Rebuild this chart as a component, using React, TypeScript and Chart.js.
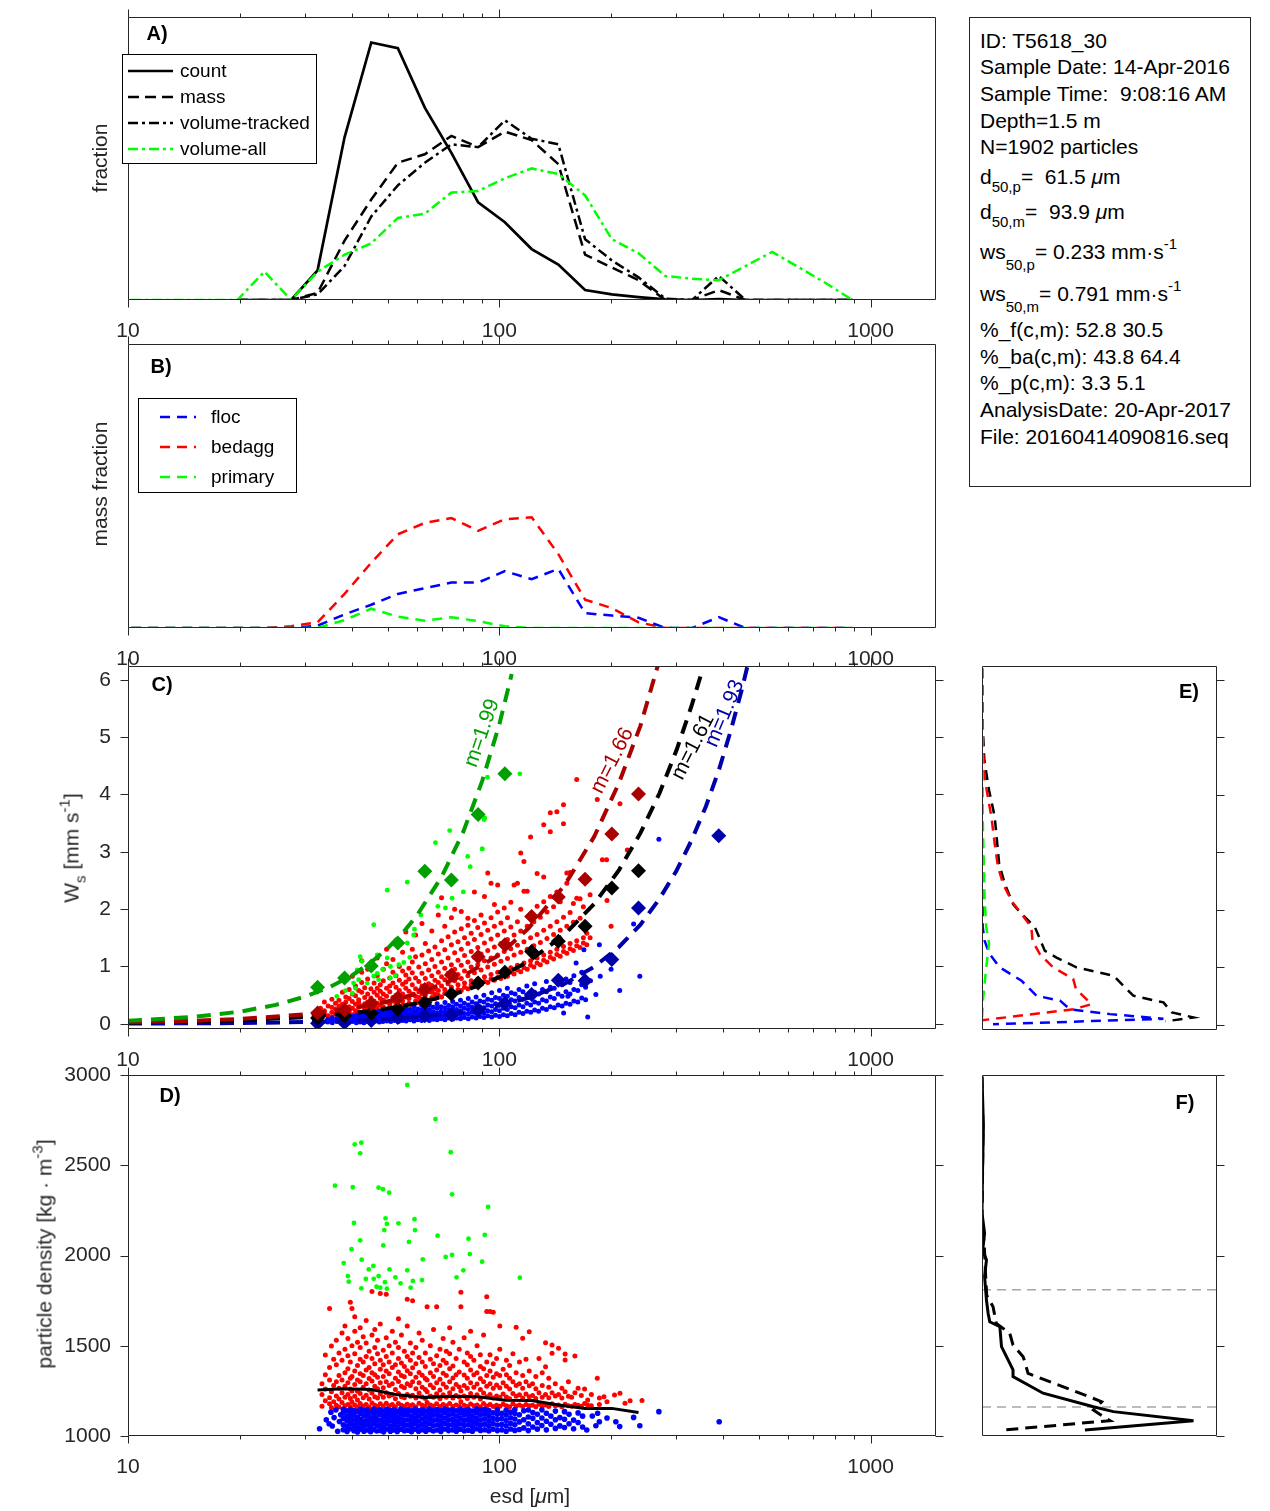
import React, { useEffect, useRef } from 'react';
import { Chart, registerables } from 'chart.js';

Chart.register(...registerables);

const FONT = '"Liberation Sans", Arial, Helvetica, sans-serif';
const AXC = '#262626';
Chart.defaults.font.family = FONT;
Chart.defaults.color = AXC;

// ================= DATA =================
const esdBins = [10.2, 12.0, 14.2, 16.7, 19.7, 23.3, 27.5, 32.4, 38.3, 45.2, 53.3, 63.0, 74.3, 87.7, 103.5, 122.2, 144.2, 170.2, 200.9, 237.1, 279.9, 330.4, 390.0, 460.3, 543.3, 641.2, 756.8, 893.3];
const esdTicks = [10, 20, 30, 40, 50, 60, 70, 80, 90, 100, 200, 300, 400, 500, 600, 700, 800, 900, 1000];
const esdTickLabels = [10, 100, 1000];
const wsTicks = [0, 1, 2, 3, 4, 5, 6];
const rhoTicks = [1000, 1500, 2000, 2500, 3000];

// Panel A (fraction per size bin)
const countFrac = [null, null, null, null, 0, 0, 0, 0.021, 0.115, 0.182, 0.178, 0.136, 0.104, 0.069, 0.055, 0.036, 0.025, 0.007, 0.004, 0.002, 0.0004, 0, 0.0006, 0, 0, 0, 0, 0];
const massFrac = [null, null, null, null, 0, 0, 0, 0.005, 0.042, 0.071, 0.097, 0.103, 0.116, 0.108, 0.119, 0.113, 0.096, 0.032, 0.023, 0.014, 0, 0, 0.007, 0, 0, 0, 0, 0];
const volTrackedFrac = [null, null, null, null, 0, 0, 0, 0.004, 0.024, 0.059, 0.081, 0.097, 0.110, 0.108, 0.127, 0.114, 0.110, 0.043, 0.028, 0.016, 0.001, 0, 0.017, 0, 0, 0, 0, 0];
const volAllFrac = [0, 0, 0, 0, 0, 0.02, 0, 0.02, 0.032, 0.04, 0.058, 0.061, 0.076, 0.077, 0.086, 0.093, 0.089, 0.074, 0.043, 0.033, 0.017, 0.015, 0.014, 0.024, 0.034, 0.023, 0.012, 0];

// Panel B (mass fraction per class)
const flocMass = [0, 0, 0, 0, 0, 0, 0, 0.002, 0.012, 0.0205, 0.03, 0.035, 0.04, 0.04, 0.05, 0.043, 0.052, 0.013, 0.011, 0.009, 0, 0, 0.0095, 0, 0, 0, 0, 0];
const bedaggMass = [0, 0, 0, 0, 0, 0, 0.0015, 0.005, 0.03, 0.0575, 0.0825, 0.0925, 0.0968, 0.0855, 0.0958, 0.0975, 0.065, 0.025, 0.0175, 0.005, 0, 0, 0, 0, 0, 0, 0, 0];
const primaryMass = [0, 0, 0, 0, 0, 0, 0, 0, 0.007, 0.017, 0.01, 0.0065, 0.0095, 0.006, 0.0015, 0, 0, 0, 0, 0, 0, 0, 0, 0, 0, 0, 0, 0];

// Panel C bin medians (bins 32.4 .. 390)
const medBins = esdBins.slice(7, 23);
const primaryWsMed = [0.64, 0.80, 1.01, 1.41, 2.66, 2.51, 3.65, 4.36, null, null, null, null, null, null, null, null];
const bedaggWsMed = [0.19, 0.24, 0.35, 0.45, 0.60, 0.85, 1.17, 1.38, 1.87, 2.21, 2.52, 3.31, 4.01, null, null, null];
const allWsMed = [0.10, 0.14, 0.19, 0.26, 0.37, 0.52, 0.71, 0.90, 1.26, 1.44, 1.70, 2.37, 2.67, null, null, null];
const flocWsMed = [0.01, 0.02, 0.06, 0.11, 0.14, 0.16, 0.24, 0.36, 0.51, 0.76, 0.75, 1.12, 2.02, null, null, 3.28];
// Panel D median density line
const rhoMed = [1255, 1262, 1258, 1228, 1214, 1220, 1218, 1198, 1196, 1172, 1152, 1153, 1130, null, null, null];

// Panel C power-law fit curves
const primaryFitEsd = [10, 15, 20, 25, 30, 35, 40, 45, 50, 55, 60, 70, 80, 90, 100, 108];
const primaryFitWs = [0.053, 0.12, 0.212, 0.33, 0.475, 0.645, 0.84, 1.065, 1.315, 1.59, 1.89, 2.57, 3.35, 4.24, 5.22, 6.1];
const bedaggFitEsd = [10, 15, 20, 30, 40, 50, 60, 80, 100, 120, 150, 180, 210, 240, 267];
const bedaggFitWs = [0.027, 0.053, 0.085, 0.165, 0.27, 0.39, 0.526, 0.84, 1.2, 1.67, 2.42, 3.26, 4.2, 5.2, 6.24];
const allFitEsd = [10, 20, 30, 40, 50, 60, 80, 100, 120, 150, 180, 210, 240, 270, 300, 330, 350];
const allFitWs = [0.02, 0.061, 0.117, 0.186, 0.266, 0.357, 0.568, 0.813, 1.09, 1.56, 2.09, 2.68, 3.33, 4.02, 4.77, 5.56, 6.11];
const flocFitEsd = [10, 20, 30, 40, 50, 60, 80, 100, 120, 150, 180, 210, 240, 270, 300, 330, 360, 390, 420, 450, 466];
const flocFitWs = [0.004, 0.014, 0.031, 0.055, 0.084, 0.119, 0.208, 0.32, 0.455, 0.70, 0.995, 1.34, 1.73, 2.18, 2.67, 3.21, 3.79, 4.42, 5.11, 5.83, 6.24];

// Panel C particles: [esd, [ws...]]
const cFlocCols = [
  [33.0, [.01, .05]], [34.5, [.03, .08]], [35.5, [.02, .06, .1]], [36.5, [.04, .09]], [37.5, [.01, .05, .11]],
  [38.4, [.03, .07, .12]], [39.3, [.02, .06, .1, .14]], [40.2, [.04, .08, .13]], [41.2, [.02, .05, .1, .15]],
  [42.2, [.03, .07, .12, .17]], [43.2, [.02, .06, .1, .16]], [44.2, [.04, .08, .13, .19]], [45.3, [.03, .07, .11, .17]],
  [46.4, [.05, .09, .14, .2]], [47.5, [.03, .07, .12, .18, .22]], [48.6, [.04, .08, .13, .19]], [49.8, [.05, .1, .15, .21]],
  [51.0, [.04, .08, .13, .18, .24]], [52.2, [.06, .1, .16, .22]], [53.5, [.04, .09, .14, .2, .26]], [54.8, [.06, .11, .17, .23]],
  [56.1, [.05, .1, .15, .21, .28]], [57.5, [.07, .12, .18, .25]], [58.9, [.05, .1, .16, .22, .3]], [60.3, [.07, .13, .19, .26]],
  [61.8, [.06, .11, .17, .24, .32]], [63.3, [.08, .14, .2, .28]], [64.8, [.06, .12, .18, .25, .33]], [66.4, [.08, .14, .21, .29]],
  [68.0, [.07, .13, .19, .27, .35]], [69.7, [.09, .15, .22, .3]], [71.4, [.07, .14, .2, .28, .37]], [73.1, [.1, .16, .24, .32]],
  [74.9, [.08, .15, .22, .3, .39]], [76.7, [.1, .17, .25, .34]], [78.6, [.09, .16, .23, .31, .41]], [80.5, [.11, .18, .27, .36]],
  [82.5, [.09, .17, .25, .33, .44]], [84.5, [.12, .2, .29, .38]], [86.6, [.1, .18, .26, .35, .47]], [88.7, [.13, .21, .3, .4]],
  [90.9, [.11, .19, .28, .38, .5]], [93.1, [.14, .23, .33, .43]], [95.4, [.12, .21, .31, .41, .54]], [97.7, [.15, .25, .35, .46]],
  [100.1, [.13, .23, .33, .44, .58]], [102.6, [.16, .27, .38, .5]], [105.1, [.14, .25, .36, .48, .62]], [107.7, [.18, .3, .42, .54]],
  [110.3, [.16, .28, .4, .52]], [113.0, [.2, .33, .46, .6]], [115.8, [.18, .3, .43, .56]], [118.6, [.22, .36, .5, .66]],
  [121.5, [.2, .33, .47]], [124.5, [.24, .38, .55, .7]], [127.6, [.22, .36, .52]], [130.7, [.27, .42, .6]],
  [133.9, [.25, .4, .56, .74]], [137.2, [.3, .47, .64]], [140.6, [.28, .44, .62]], [144.0, [.33, .52, .7]],
  [147.6, [.31, .48, .68]], [149.0, [.19]], [151.2, [.36, .56, .78]], [153.0, [.48]], [155.0, [.34, .52, .72]],
  [158.8, [.4, .6, .84]], [161.0, [1.06]], [162.7, [.38, .58]], [166.7, [.45, .68, .9]], [169.0, [1.29]],
  [170.8, [.42, .64]], [173.0, [.12]], [176.0, [.75]], [182.0, [.51]], [186.0, [1.38]], [187.0, [.83]],
  [200.0, [.95]], [211.0, [.58]], [230.0, [1.74]], [239.0, [.83]], [269.0, [3.22]], [391.0, [3.28]],
];
const cBedaggCols = [
  [33.0, [.11, .27]], [33.8, [.19, .23, .38]], [34.6, [.14, .31]], [35.4, [.12, .2, .29, .43]], [36.2, [.26, .17, .36]],
  [37.0, [.13, .22, .41, .31]], [37.8, [.18, .34, .28, .55]], [38.6, [.15, .25, .47, .38]], [39.4, [.21, .3, .6, .19, .44]],
  [40.2, [.16, .39, .27, .52, .83]], [41.0, [.23, .34, .18, .49, .66]], [41.8, [.29, .2, .42, .58, .37]],
  [42.6, [.17, .31, .55, .72, 1.1, .9]], [43.4, [.24, .46, .35, .63, .28]], [44.2, [.2, .38, .52, .3, .78, .95]],
  [45.1, [.33, .26, .61, .45, 1.02]], [46.0, [.19, .4, .55, .71, .3]], [46.9, [.27, .36, .5, .84, 1.15, .62]],
  [47.8, [.22, .44, .33, .68, .57]], [48.7, [.3, .52, .41, .75, .95]], [49.7, [.25, .38, .62, .48, 1.05, 1.3]],
  [50.7, [.34, .29, .56, .8, .66]], [51.7, [.27, .46, .4, .71, .9, 1.12]], [52.7, [.36, .5, .31, .64, .84, 1.45]],
  [53.8, [.29, .58, .43, .76, 1.0]], [54.9, [.4, .33, .69, .52, .92, 1.25]], [56.0, [.31, .47, .62, .85, 1.6, .73]],
  [57.1, [.44, .36, .57, .97, .78]], [58.3, [.33, .52, .68, .89, 1.3, 1.08]], [59.5, [.48, .4, .61, .8, 1.17, 1.55]],
  [60.7, [.37, .56, .74, .99, .46]], [61.9, [.43, .66, .52, .88, 1.2, 1.75]], [63.2, [.5, .38, .79, .6, 1.05, 1.4]],
  [64.5, [.41, .7, .56, .94, 1.27]], [65.8, [.55, .46, .84, .67, 1.12, 1.62]], [67.1, [.44, .61, .76, 1.0, 1.34, .52]],
  [68.5, [.58, .5, .9, .72, 1.22, 1.9]], [69.9, [.47, .66, .82, 1.08, 1.45, 2.2]], [71.3, [.6, .53, .97, .77, 1.29, 1.7]],
  [72.8, [.51, .7, .88, 1.15, 1.52]], [74.3, [.64, .57, .8, 1.03, 1.38, 1.85]], [75.8, [.54, .75, .95, 1.24, 1.6, 2.0]],
  [77.4, [.68, .6, .86, 1.11, 1.43]], [79.0, [.58, .79, 1.02, 1.3, 1.66, 1.96]], [80.6, [.71, .64, .92, 1.19, 1.5]],
  [82.3, [.61, .84, 1.08, 1.4, 1.72, 1.84]], [84.0, [.75, .68, .99, 1.26, 1.58]], [85.7, [.65, .89, 1.16, 1.47, 1.8, 2.3]],
  [87.5, [.78, .71, 1.03, 1.33, 1.68]], [89.3, [.69, .94, 1.22, 1.56, 1.9]], [91.2, [.82, .74, 1.1, 1.41, 1.76, 2.22]],
  [93.1, [.72, .99, 1.28, 1.63, 2.63]], [95.0, [.86, .78, 1.15, 1.48, 1.85, 2.45]], [97.0, [.76, 1.04, 1.34, 1.7, 2.08]],
  [99.0, [.9, .81, 1.2, 1.55, 1.95, 2.42]], [101.0, [.79, 1.09, 1.4, 1.76]], [103.1, [.94, .86, 1.26, 1.62, 2.02]],
  [105.2, [.83, 1.14, 1.47, 1.85]], [107.4, [.98, .9, 1.31, 1.69, 2.12]], [109.6, [.87, 1.2, 1.55, 2.42]],
  [111.9, [1.02, .94, 1.37, 1.78, 2.45]], [114.2, [.91, 1.25, 1.62, 2.0, 2.98]], [116.5, [1.06, .98, 1.43, 2.31, 2.83]],
  [118.9, [.95, 1.3, 1.7, 2.31]], [121.4, [1.1, 1.02, 1.5, 1.92, 3.26]], [123.9, [.99, 1.36, 1.78]],
  [126.4, [1.15, 1.06, 1.56, 2.05, 2.62]], [129.0, [1.03, 1.42, 1.86]], [131.7, [1.2, 1.11, 1.63, 2.13, 2.56, 3.47]],
  [134.4, [1.08, 1.49, 1.95]], [137.2, [1.25, 1.16, 1.7, 2.22, 3.35, 3.68]], [140.0, [1.13, 1.56, 2.04]],
  [142.9, [1.3, 1.21, 1.78, 2.3, 3.7]], [145.9, [1.18, 1.63, 2.13]], [148.9, [1.35, 1.26, 1.86, 3.49, 3.82]],
  [152.0, [1.23, 1.7, 2.45, 2.63]], [155.1, [1.4, 1.31, 1.94, 2.64]], [158.3, [1.28, 1.77, 2.1]],
  [161.6, [1.45, 1.36, 2.19, 4.26]], [165.0, [1.33, 1.84, 2.18]], [168.4, [1.5, 1.41, 2.04]], [172.0, [1.38, 1.58]],
  [175.6, [1.5, 2.25]], [183.6, [3.91]], [189.5, [2.86]], [194.5, [2.86]], [195.0, [2.15]],
  [200.0, [1.7]], [205.0, [3.3]], [211.3, [3.84]], [221.2, [3.03]], [237.0, [4.0]],
];
const cPrimaryPts = [45.9, 1.73, 49.9, 2.33, 56.5, 2.47, 67.3, 3.16, 73.5, 3.37, 82.2, 2.92, 83.5, 2.74, 90, 3.05, 91, 3.56, 92.9, 4.3,
  68.3, 2.05, 71.6, 2.02, 74.6, 2.19, 80, 2.3, 59.1, 1.65, 58.8, 1.55, 56.5, 1.41, 57.4, 1.16, 55.3, 1.07, 50.9, 1.0,
  49.9, 1.15, 46.9, 1.2, 42.2, 1.17, 42.7, 1.09, 41.4, .94, 41.8, .77, 45.9, .83, 46.9, .88, 50.9, .8, 52.5, .84,
  53.6, 1.03, 38.5, .58, 40.2, .53, 40.5, .71, 41, .62, 44.1, .71, 47.3, .77, 113.6, 4.36, 91.4, 3.59, 89.9, 3.05,
  75.5, 2.51, 36.5, .48, 48.5, .95, 61.5, 1.9, 63, 2.64];

// Panel D particles: [esd, [density...]]
const dFlocCols = [
  [32.8, [1040]], [34.2, [1090]], [34.8, [1068]], [35.2, [1132]], [35.5, [1055]], [35.9, [1102]], [36.3, [1145]], [36.7, [1026]], [37.1, [1080]], [37.4, [1118]],
  [38.0, [1035, 1062, 1096, 1128, 1148]], [38.9, [1025, 1052, 1083, 1110, 1140]], [39.7, [1040, 1071, 1099, 1122, 1146]],
  [40.6, [1029, 1058, 1088, 1117, 1143]], [41.5, [1022, 1046, 1075, 1104, 1136]], [42.3, [1038, 1066, 1093, 1125, 1149]],
  [43.2, [1027, 1055, 1081, 1112, 1141]], [44.1, [1033, 1063, 1090, 1119, 1147]], [45.0, [1024, 1049, 1077, 1106, 1134]],
  [45.9, [1036, 1068, 1097, 1127, 1150]], [46.8, [1028, 1057, 1085, 1114, 1142]], [47.8, [1031, 1060, 1089, 1120, 1145]],
  [48.8, [1023, 1051, 1079, 1108, 1138]], [49.8, [1039, 1069, 1098, 1126, 1148]], [50.9, [1026, 1054, 1084, 1113, 1141]],
  [52.0, [1034, 1064, 1092, 1121, 1146]], [53.1, [1025, 1050, 1078, 1107, 1137]], [54.3, [1037, 1067, 1095, 1124, 1149]],
  [55.5, [1029, 1058, 1087, 1116, 1143]], [56.7, [1032, 1061, 1090, 1119, 1145]], [58.0, [1024, 1052, 1080, 1109, 1139]],
  [59.3, [1038, 1070, 1099, 1128, 1150]], [60.6, [1027, 1055, 1083, 1112, 1140]], [62.0, [1035, 1065, 1094, 1123, 1147]],
  [63.4, [1026, 1051, 1079, 1108, 1138]], [64.9, [1036, 1068, 1096, 1126, 1149]], [66.4, [1028, 1057, 1086, 1115, 1142]],
  [68.0, [1033, 1062, 1091, 1120, 1146]], [69.6, [1025, 1053, 1081, 1110, 1139]], [71.3, [1039, 1071, 1100, 1129, 1150]],
  [73.0, [1030, 1059, 1088, 1117, 1144]], [74.8, [1034, 1064, 1093, 1122, 1147]], [76.6, [1027, 1054, 1082, 1111, 1140]],
  [78.5, [1037, 1067, 1097, 1127, 1149]], [80.5, [1029, 1058, 1087, 1116, 1143]], [82.5, [1032, 1063, 1092, 1121, 1146]],
  [84.6, [1026, 1052, 1080, 1109, 1138]], [86.8, [1040, 1070, 1098, 1128, 1150]], [89.0, [1031, 1060, 1089, 1118, 1144]],
  [91.3, [1035, 1066, 1095, 1124, 1148]], [93.7, [1028, 1056, 1084, 1113, 1141]], [96.2, [1038, 1069, 1099, 1129]],
  [98.8, [1030, 1061, 1091, 1120, 1146]], [101.5, [1034, 1065, 1096, 1126]], [104.3, [1027, 1057, 1086, 1116, 1143]],
  [107.2, [1039, 1070, 1101, 1132]], [110.1, [1031, 1062, 1094, 1125, 1147]],
  [113.2, [1036, 1078, 1118]], [116.4, [1045, 1090, 1140]], [119.7, [1030, 1068, 1105, 1144]], [123.1, [1050, 1098, 1130]],
  [126.6, [1038, 1075, 1120]], [130.2, [1058, 1100, 1145]], [133.9, [1034, 1082, 1126]], [137.7, [1065, 1110]],
  [141.6, [1042, 1090, 1138]], [145.6, [1056, 1102]], [149.8, [1047, 1093, 1135]], [154.1, [1068, 1120]],
  [158.5, [1040, 1088]], [163.0, [1075, 1128]], [167.6, [1050, 1110]],
  [172, [1033]], [178, [1111]], [182, [1057]], [184, [1126]], [186, [1079]], [195, [1100]], [206, [1079]], [211, [1052]],
  [230, [1103]], [239, [1057]], [269, [1135]], [391, [1079]],
];
const dBedaggCols = [
  [33.3, [1165, 1230, 1290]], [34.0, [1195, 1260, 1340, 1449]], [34.9, [1178, 1212, 1310, 1380, 1707]], [35.3, [1158, 1245, 1499]],
  [35.8, [1190, 1280, 1425]], [36.4, [1170, 1222, 1300, 1395, 1530]], [37.0, [1160, 1205, 1265, 1335, 1460]],
  [37.7, [1185, 1240, 1310, 1420, 1570]], [38.4, [1168, 1215, 1275, 1350, 1480, 1610]], [39.1, [1175, 1230, 1295, 1372, 1445, 1540]],
  [39.7, [1162, 1208, 1260, 1320, 1410, 1741]], [40.1, [1188, 1250, 1330, 1500, 1707]], [40.8, [1172, 1220, 1285, 1360, 1455, 1580, 1660]],
  [41.5, [1160, 1200, 1248, 1310, 1390, 1520]], [42.2, [1180, 1235, 1300, 1345, 1425, 1490, 1600]], [43.0, [1166, 1212, 1270, 1335, 1410, 1550]],
  [43.8, [1175, 1226, 1290, 1365, 1440, 1515, 1640]], [44.6, [1161, 1205, 1255, 1318, 1380, 1470]], [45.4, [1183, 1238, 1305, 1350, 1430, 1560, 1800]],
  [46.2, [1170, 1218, 1275, 1340, 1400, 1490, 1590]], [47.0, [1163, 1210, 1262, 1325, 1455, 1530]], [47.8, [1178, 1232, 1295, 1370, 1420, 1620, 1790]],
  [48.7, [1166, 1214, 1268, 1330, 1395, 1475]], [49.6, [1181, 1240, 1300, 1360, 1440, 1545, 1785]], [50.5, [1168, 1222, 1280, 1345, 1410, 1500]],
  [51.5, [1174, 1228, 1290, 1380, 1460, 1580]], [52.5, [1162, 1207, 1258, 1320, 1395, 1520]], [53.5, [1180, 1236, 1302, 1355, 1430, 1490, 1650]],
  [54.5, [1170, 1218, 1275, 1335, 1405, 1560]], [55.5, [1165, 1212, 1268, 1328, 1385, 1470]], [56.5, [1176, 1230, 1290, 1362, 1440, 1610, 1757]],
  [57.6, [1168, 1220, 1280, 1345, 1420, 1515]], [58.4, [1173, 1226, 1300, 1378, 1460, 1750]], [59.6, [1162, 1210, 1262, 1325, 1400, 1490]],
  [60.8, [1182, 1238, 1295, 1352, 1435, 1570]], [62.0, [1170, 1216, 1270, 1336, 1410, 1530]], [63.2, [1165, 1208, 1258, 1318, 1385, 1460]],
  [63.9, [1186, 1245, 1310, 1716]], [65.2, [1172, 1222, 1282, 1350, 1425, 1500]], [66.5, [1166, 1214, 1268, 1330, 1400, 1590]],
  [67.8, [1178, 1234, 1295, 1365, 1445, 1716]], [69.2, [1163, 1206, 1255, 1315, 1390, 1480]], [70.6, [1175, 1228, 1288, 1348, 1420, 1540]],
  [72.0, [1168, 1215, 1270, 1335, 1405, 1470]], [73.5, [1180, 1240, 1300, 1372, 1455, 1600]], [75.0, [1164, 1210, 1262, 1322, 1388, 1520]],
  [76.5, [1172, 1225, 1285, 1340, 1430]], [78.0, [1166, 1216, 1272, 1355, 1480]], [78.8, [1190, 1250, 1716, 1796]],
  [80.4, [1170, 1222, 1280, 1338, 1410, 1545]], [82.0, [1163, 1208, 1265, 1320, 1395, 1460]], [83.7, [1177, 1235, 1295, 1365, 1440, 1580]],
  [85.4, [1168, 1214, 1270, 1340, 1420]], [87.1, [1172, 1228, 1288, 1350, 1500]], [88.9, [1162, 1205, 1258, 1318, 1385, 1450]],
  [90.7, [1180, 1238, 1300, 1372, 1560]], [92.5, [1166, 1218, 1275, 1335, 1410, 1690, 1772]], [94.4, [1174, 1230, 1290, 1360, 1450, 1690]],
  [96.3, [1163, 1210, 1265, 1325, 1400, 1685]], [98.3, [1170, 1222, 1282, 1345, 1430]], [100.3, [1165, 1214, 1268, 1335, 1480, 1609]],
  [102.4, [1176, 1232, 1295, 1370]], [104.5, [1168, 1216, 1275, 1340, 1420]], [106.6, [1162, 1206, 1260, 1320, 1390]],
  [108.8, [1178, 1236, 1300, 1455]], [111.0, [1166, 1220, 1280, 1350, 1602]], [113.3, [1172, 1228, 1290, 1410]],
  [115.6, [1163, 1210, 1265, 1335, 1541]], [118.0, [1175, 1232, 1300, 1425]], [120.4, [1168, 1218, 1278, 1360, 1578]],
  [122.9, [1170, 1225, 1290]], [125.4, [1162, 1208, 1262, 1330]], [127.9, [1176, 1240, 1430]], [130.5, [1166, 1215, 1280, 1350]],
  [133.2, [1172, 1230, 1384, 1517]], [135.9, [1164, 1212, 1270, 1320]], [138.7, [1178, 1240, 1458, 1504]], [141.5, [1168, 1222, 1290]],
  [144.4, [1172, 1230, 1486]], [147.4, [1162, 1210, 1265]], [150.4, [1176, 1245, 1421, 1454]], [153.5, [1168, 1220, 1300]],
  [156.6, [1165, 1215]], [159.8, [1174, 1240, 1443]], [163.0, [1170, 1264]], [166.3, [1165, 1225]], [169.7, [1180, 1260]],
  [173.0, [1172, 1199]], [177.0, [1168, 1230]], [183.6, [1320]], [186.0, [1175, 1210]], [191.4, [1218]], [195.0, [1190]],
  [204.3, [1227]], [211.3, [1237]], [218.0, [1181]], [225.0, [1195]], [242.3, [1196]],
];
const dPrimaryPts = [56.5, 2945, 67.3, 2756, 40.8, 2616, 42.5, 2625, 42.2, 2566, 74.0, 2572, 36.1, 2387, 40.3, 2378, 47.3, 2376,
  48.6, 2367, 50.5, 2348, 74.6, 2339, 93.3, 2269, 40.6, 2180, 49.4, 2206, 49.8, 2175, 53.5, 2178, 59.1, 2201, 59.3, 2141,
  49.0, 2141, 68.2, 2110, 91.4, 2114, 82.6, 2093, 42.2, 2084, 48.7, 2056, 57.1, 2075, 40.0, 2035, 62.2, 1979, 71.7, 1992,
  74.6, 2003, 83.3, 2008, 89.9, 1966, 38.1, 1958, 42.6, 1977, 45.8, 1942, 44.5, 1923, 50.6, 1923, 56.5, 1918, 80.0, 1918,
  39.1, 1886, 47.3, 1886, 52.5, 1879, 61.9, 1864, 76.7, 1879, 39.3, 1855, 43.7, 1870, 45.9, 1871, 49.2, 1852, 58.5, 1859,
  54.2, 1846, 42.5, 1818, 46.7, 1827, 49.8, 1816, 57.7, 1822, 47.8, 1822, 113.6, 1877];

// Panel E: settling velocity distributions (relative fraction, ws)
const eAllFrac = [0, 0.003, 0.01, 0.03, 0.054, 0.073, 0.097, 0.132, 0.168, 0.225, 0.267, 0.317, 0.402, 0.559, 0.644, 0.772, 0.808, 0.9, 0.78];
const eAllWs = [6.2, 5.2, 4.6, 4.08, 3.62, 2.8, 2.45, 2.1, 1.93, 1.70, 1.29, 1.17, 1.0, 0.855, 0.506, 0.39, 0.215, 0.128, 0.06];
const eBedaggFrac = [0, 0.004, 0.011, 0.025, 0.04, 0.054, 0.068, 0.09, 0.125, 0.168, 0.21, 0.215, 0.246, 0.302, 0.388, 0.4, 0.466, 0.39, 0.33, 0.0];
const eBedaggWs = [6.2, 4.8, 4.3, 3.96, 3.62, 3.15, 2.75, 2.45, 2.16, 1.93, 1.70, 1.46, 1.23, 1.0, 0.8, 0.62, 0.36, 0.27, 0.24, 0.08];
const eFlocFrac = [0, 0, 0.003, 0.011, 0.032, 0.075, 0.168, 0.232, 0.332, 0.374, 0.545, 0.772, 0.047];
const eFlocWs = [6.2, 3.0, 1.7, 1.465, 1.233, 1.0, 0.767, 0.506, 0.42, 0.27, 0.186, 0.105, 0.01];
const ePrimaryFrac = [0, 0.003, 0.011, 0.018, 0.03, 0.018, 0.004, 0];
const ePrimaryWs = [6.2, 3.6, 2.2, 1.7, 1.41, 1.0, 0.42, 0.1];

// Panel F: density distributions
const fCountFrac = [0.0, 0.006, 0.002, 0.0, 0.011, 0.003, 0.019, 0.011, 0.019, 0.026, 0.033, 0.076, 0.083, 0.132, 0.132, 0.26, 0.474, 0.559, 0.90, 0.438];
const fCountRho = [2991, 2714, 2450, 2234, 2123, 2030, 1975, 1883, 1753, 1680, 1633, 1606, 1495, 1366, 1329, 1237, 1162, 1135, 1085, 1033];
const fMassFrac = [0.0, 0.004, 0.002, 0.0, 0.01, 0.015, 0.02, 0.047, 0.061, 0.118, 0.132, 0.175, 0.182, 0.196, 0.402, 0.509, 0.474, 0.516, 0.545, 0.09];
const fMassRho = [2991, 2700, 2400, 2200, 2050, 1900, 1780, 1716, 1624, 1569, 1504, 1439, 1412, 1347, 1245, 1190, 1144, 1107, 1085, 1033];
const fThresholds = [1810, 1160];

// ================= HELPERS =================
const DGREEN = '#00A000';
const DRED = '#AA0000';
const DBLUE = '#0000AA';

const onBins = (xs: number[], vals: any[]) => xs.map((x, i) => ({ x, y: vals[i] })).filter((p) => p.y !== null && p.y !== undefined);
const xy = (xs: number[], ys: number[]) => xs.map((x, i) => ({ x, y: ys[i] }));
const cols = (c: any[]) => c.flatMap(([x, ys]: any) => ys.map((y: number) => ({ x, y })));
const pairs = (f: number[]) => { const o: any[] = []; for (let i = 0; i < f.length; i += 2) o.push({ x: f[i], y: f[i + 1] }); return o; };

const line = (data: any[], color: string, width: number, dash: number[], order: number, label?: string) => ({
  label, data, showLine: true, borderColor: color, backgroundColor: color, borderWidth: width, borderDash: dash,
  pointRadius: 0, pointHoverRadius: 0, fill: false, tension: 0, order,
});
const dots = (data: any[], color: string, order: number, r = 2.4) => ({
  data, showLine: false, pointRadius: r, pointHoverRadius: 0, pointBackgroundColor: color, pointBorderWidth: 0,
  backgroundColor: color, borderColor: color, order,
});
const diamonds = (data: any[], color: string, order: number) => ({
  data, showLine: false, pointStyle: 'rectRot', pointRadius: 7.5, pointHoverRadius: 0, pointBackgroundColor: color,
  pointBorderColor: color, pointBorderWidth: 0, backgroundColor: color, borderColor: color, order,
});

const frameTicks = {
  id: 'frameTicks',
  afterDraw(chart: any, _a: any, o: any) {
    const { ctx, chartArea: a } = chart;
    const L = Math.round(a.left) + 0.5, R = Math.round(a.right) - 0.5, T = Math.round(a.top) + 0.5, B = Math.round(a.bottom) - 0.5;
    ctx.save();
    ctx.setLineDash([]);
    ctx.strokeStyle = AXC;
    ctx.lineWidth = 1;
    ctx.beginPath();
    ctx.rect(L, T, R - L, B - T);
    const xs = chart.scales.x, ys = chart.scales.y;
    if (o.xTicks) o.xTicks.forEach((v: number) => {
      const p = Math.round(xs.getPixelForValue(v)) + 0.5;
      const len = esdTickLabels.includes(v) ? 8 : 4;
      if (o.top) { ctx.moveTo(p, T); ctx.lineTo(p, T - len); }
      if (o.bottom) { ctx.moveTo(p, B); ctx.lineTo(p, B + len); }
    });
    if (o.yTicks) o.yTicks.forEach((v: number) => {
      const p = Math.round(ys.getPixelForValue(v)) + 0.5;
      if (o.left) { ctx.moveTo(L, p); ctx.lineTo(L - 8, p); }
      if (o.right) { ctx.moveTo(R, p); ctx.lineTo(R + 8, p); }
    });
    ctx.stroke();
    ctx.restore();
  },
};

const boxLegend = {
  id: 'boxLegend',
  afterDraw(chart: any, _a: any, o: any) {
    if (!o || !o.box) return;
    const ctx = chart.ctx;
    const [bx, by, bw, bh] = o.box;
    ctx.save();
    ctx.fillStyle = '#ffffff';
    ctx.fillRect(bx, by, bw, bh);
    ctx.setLineDash([]);
    ctx.strokeStyle = '#000000';
    ctx.lineWidth = 1;
    ctx.strokeRect(bx + 0.5, by + 0.5, bw, bh);
    ctx.font = `${o.fontSize}px ${FONT}`;
    ctx.textBaseline = 'middle';
    ctx.textAlign = 'left';
    chart.data.datasets.forEach((ds: any, i: number) => {
      if (!ds.label) return;
      const y = o.rows[i];
      ctx.strokeStyle = ds.borderColor;
      ctx.lineWidth = ds.borderWidth;
      ctx.setLineDash(ds.borderDash || []);
      ctx.beginPath();
      ctx.moveTo(o.x0, y);
      ctx.lineTo(o.x1, y);
      ctx.stroke();
      ctx.fillStyle = '#000000';
      ctx.fillText(ds.label, o.tx, y + 1);
    });
    ctx.restore();
  },
};

const curveLabels = {
  id: 'curveLabels',
  afterDraw(chart: any, _a: any, o: any) {
    if (!o || !o.items) return;
    const { ctx } = chart;
    const xs = chart.scales.x, ys = chart.scales.y;
    o.items.forEach((it: any) => {
      ctx.save();
      ctx.translate(xs.getPixelForValue(it.x), ys.getPixelForValue(it.y));
      ctx.rotate((it.angle * Math.PI) / 180);
      ctx.font = `21px ${FONT}`;
      ctx.fillStyle = it.color;
      ctx.textAlign = 'center';
      ctx.textBaseline = 'middle';
      ctx.fillText(it.text, 0, 0);
      ctx.restore();
    });
  },
};

const tickFont = { family: FONT, size: 21 };

const logX = (axisHeight: number) => ({
  type: 'logarithmic', min: 10, max: 1500, position: 'bottom',
  grid: { display: false, drawTicks: false },
  border: { display: false },
  afterBuildTicks: (s: any) => { s.ticks = esdTicks.map((v) => ({ value: v, major: false })); },
  ticks: {
    autoSkip: false, maxRotation: 0, minRotation: 0, padding: 19, color: AXC, font: tickFont,
    callback: (v: any) => (esdTickLabels.includes(Number(v)) ? String(v) : ''),
  },
  afterFit: (s: any) => { s.height = axisHeight; },
});

const leftY = (min: number, max: number, tickVals: number[]) => ({
  type: 'linear', min, max, position: 'left',
  grid: { display: false, drawTicks: false },
  border: { display: false },
  afterBuildTicks: (s: any) => { s.ticks = tickVals.map((v) => ({ value: v })); },
  ticks: { padding: 17, color: AXC, font: tickFont, callback: (v: any) => String(v) },
  afterFit: (s: any) => { s.width = 128; },
});

const base = (padding: any, extraPlugins: any = {}) => ({
  responsive: false,
  animation: false,
  events: [],
  layout: { padding },
  plugins: { legend: { display: false }, tooltip: { enabled: false }, ...extraPlugins },
});

// ================= CONFIGS =================
const cfgA = () => ({
  type: 'scatter',
  data: {
    datasets: [
      line(onBins(esdBins, countFrac), '#000000', 2.7, [], 3, 'count'),
      line(onBins(esdBins, massFrac), '#000000', 2.5, [11, 6], 2, 'mass'),
      line(onBins(esdBins, volTrackedFrac), '#000000', 2.5, [10, 4, 3, 4], 1, 'volume-tracked'),
      line(onBins(esdBins, volAllFrac), '#00FF00', 2.5, [10, 4, 3, 4], 0, 'volume-all'),
    ],
  },
  options: {
    ...base({ top: 17, right: 24, left: 128, bottom: 0 }, {
      frameTicks: { xTicks: esdTicks, top: true, bottom: true },
      boxLegend: { box: [122, 54, 194, 109], rows: [71, 97, 123, 149], x0: 128, x1: 173, tx: 180, fontSize: 19 },
    }),
    scales: { x: logX(60), y: { type: 'linear', min: 0, max: 0.2, display: false } },
  },
  plugins: [frameTicks, boxLegend],
});

const cfgB = () => ({
  type: 'scatter',
  data: {
    datasets: [
      line(onBins(esdBins, flocMass), '#0000FF', 2.5, [10, 7], 1, 'floc'),
      line(onBins(esdBins, bedaggMass), '#FF0000', 2.5, [10, 7], 2, 'bedagg'),
      line(onBins(esdBins, primaryMass), '#00FF00', 2.5, [10, 7], 0, 'primary'),
    ],
  },
  options: {
    ...base({ top: 14, right: 24, left: 128, bottom: 0 }, {
      frameTicks: { xTicks: esdTicks, top: true, bottom: true },
      boxLegend: { box: [138, 68, 158, 94], rows: [87, 117, 147], x0: 160, x1: 196, tx: 211, fontSize: 19 },
    }),
    scales: { x: logX(47), y: { type: 'linear', min: 0, max: 0.25, display: false } },
  },
  plugins: [frameTicks, boxLegend],
});

const cfgC = () => ({
  type: 'scatter',
  data: {
    datasets: [
      diamonds(onBins(medBins, primaryWsMed), DGREEN, 0),
      diamonds(onBins(medBins, bedaggWsMed), DRED, 0),
      diamonds(onBins(medBins, allWsMed), '#000000', 0),
      diamonds(onBins(medBins, flocWsMed), DBLUE, 0),
      line(xy(primaryFitEsd, primaryFitWs), DGREEN, 4, [14, 9], 1),
      line(xy(bedaggFitEsd, bedaggFitWs), DRED, 4, [14, 9], 1),
      line(xy(allFitEsd, allFitWs), '#000000', 4, [14, 9], 1),
      line(xy(flocFitEsd, flocFitWs), DBLUE, 4, [14, 9], 1),
      dots(pairs(cPrimaryPts), '#00FF00', 2),
      dots(cols(cFlocCols), '#0000FF', 3, 2.5),
      dots(cols(cBedaggCols), '#FF0000', 4, 2.5),
    ],
  },
  options: {
    ...base({ top: 30, right: 24, left: 0, bottom: 0 }, {
      frameTicks: { xTicks: esdTicks, top: true, bottom: true, yTicks: wsTicks, left: true, right: true },
      curveLabels: {
        items: [
          { text: 'm=1.99', x: 89.9, y: 5.07, angle: -71, color: DGREEN },
          { text: 'm=1.66', x: 201.7, y: 4.59, angle: -63, color: DRED },
          { text: 'm=1.61', x: 332.6, y: 4.83, angle: -63, color: '#000000' },
          { text: 'm=1.93', x: 404.6, y: 5.41, angle: -67, color: DBLUE },
        ],
      },
    }),
    scales: { x: logX(46), y: leftY(-0.09, 6.24, wsTicks) },
  },
  plugins: [frameTicks, curveLabels],
});

const cfgD = () => ({
  type: 'scatter',
  data: {
    datasets: [
      line(onBins(medBins, rhoMed), '#000000', 3, [], 0),
      dots(pairs(dPrimaryPts), '#00FF00', 1),
      dots(cols(dFlocCols), '#0000FF', 2, 2.8),
      dots(cols(dBedaggCols), '#FF0000', 3, 2.5),
    ],
  },
  options: {
    ...base({ top: 30, right: 24, left: 0, bottom: 0 }, {
      frameTicks: { xTicks: esdTicks, top: true, bottom: true, yTicks: rhoTicks, left: true, right: true },
    }),
    scales: { x: logX(75), y: leftY(1000, 3000, rhoTicks) },
  },
  plugins: [frameTicks],
});

const cfgE = () => ({
  type: 'scatter',
  data: {
    datasets: [
      line(xy(ePrimaryFrac, ePrimaryWs), '#00FF00', 2.5, [10, 7], 0),
      line(xy(eFlocFrac, eFlocWs), '#0000FF', 2.5, [10, 7], 1),
      line(xy(eBedaggFrac, eBedaggWs), '#FF0000', 2.5, [10, 7], 2),
      line(xy(eAllFrac, eAllWs), '#000000', 2.5, [10, 7], 3),
    ],
  },
  options: {
    ...base({ top: 21, right: 53, left: 22, bottom: 15 }, {
      frameTicks: { yTicks: wsTicks, right: true },
    }),
    scales: {
      x: { type: 'linear', min: 0, max: 1, display: false },
      y: { type: 'linear', min: -0.09, max: 6.24, display: false },
    },
  },
  plugins: [frameTicks],
});

const cfgF = () => ({
  type: 'scatter',
  data: {
    datasets: [
      line(xy(fCountFrac, fCountRho), '#000000', 3, [], 0),
      line(xy(fMassFrac, fMassRho), '#000000', 3, [12, 7], 1),
      ...fThresholds.map((t) => line([{ x: 0, y: t }, { x: 1, y: t }], '#A6A6A6', 1.5, [9, 6], 2)),
    ],
  },
  options: {
    ...base({ top: 25, right: 53, left: 22, bottom: 75 }, {
      frameTicks: { yTicks: rhoTicks, right: true },
    }),
    scales: {
      x: { type: 'linear', min: 0, max: 1, display: false },
      y: { type: 'linear', min: 1000, max: 3000, display: false },
    },
  },
  plugins: [frameTicks],
});

// ================= COMPONENTS =================
function Panel({ left, top, width, height, make }: any) {
  const ref = useRef<HTMLCanvasElement | null>(null);
  useEffect(() => {
    const ch = new Chart(ref.current as any, make() as any);
    return () => ch.destroy();
  }, []);
  return <canvas ref={ref} width={width} height={height} style={{ position: 'absolute', left, top, width, height }} />;
}

const VTitle = ({ cx, cy, children }: any) => (
  <div style={{ position: 'absolute', left: cx, top: cy, transform: 'translate(-50%,-50%) rotate(-90deg)', whiteSpace: 'pre', fontSize: 21, lineHeight: '21px', color: AXC }}>
    {children}
  </div>
);
const PLabel = ({ cx, cy, children }: any) => (
  <div style={{ position: 'absolute', left: cx, top: cy, transform: 'translate(-50%,-50%)', fontSize: 20, lineHeight: '20px', fontWeight: 'bold', color: '#000' }}>
    {children}
  </div>
);
const Info = ({ cy, children }: any) => (
  <div style={{ position: 'absolute', left: 980, top: cy - 10.3, fontSize: 21, lineHeight: '21px', whiteSpace: 'pre', color: '#000' }}>{children}</div>
);
const Sub = ({ dy = 8, children }: any) => <span style={{ fontSize: 15, position: 'relative', top: dy }}>{children}</span>;
const Sup = ({ dy = -10, children }: any) => <span style={{ fontSize: 15, position: 'relative', top: dy }}>{children}</span>;
const Mu = () => <span style={{ fontStyle: 'italic' }}>μ</span>;

export default function App() {
  useEffect(() => {
    document.body.style.margin = '0';
    document.body.style.overflow = 'hidden';
  }, []);
  return (
    <div style={{ position: 'absolute', left: 0, top: 0, width: 1270, height: 1511, background: '#fff', overflow: 'hidden', fontFamily: FONT }}>
      <Panel left={0} top={0} width={960} height={360} make={cfgA} />
      <Panel left={0} top={330} width={960} height={345} make={cfgB} />
      <Panel left={0} top={636} width={960} height={439} make={cfgC} />
      <Panel left={0} top={1045} width={960} height={466} make={cfgD} />
      <Panel left={960} top={645} width={310} height={400} make={cfgE} />
      <Panel left={960} top={1050} width={310} height={461} make={cfgF} />

      <VTitle cx={99.4} cy={158}>fraction</VTitle>
      <VTitle cx={99.4} cy={484}>mass fraction</VTitle>
      <VTitle cx={72} cy={848}>W<Sub dy={7}>s</Sub> [mm s<Sup dy={-9}>-1</Sup>]</VTitle>
      <VTitle cx={45} cy={1254}>particle density [kg · m<Sup dy={-9}>-3</Sup>]</VTitle>
      <div style={{ position: 'absolute', left: 530, top: 1485, transform: 'translateX(-50%)', fontSize: 21, lineHeight: '21px', whiteSpace: 'pre', color: AXC }}>
        esd [<Mu />m]
      </div>

      <PLabel cx={157} cy={33}>A)</PLabel>
      <PLabel cx={161} cy={366}>B)</PLabel>
      <PLabel cx={162} cy={684}>C)</PLabel>
      <PLabel cx={170} cy={1095}>D)</PLabel>
      <PLabel cx={1189} cy={691}>E)</PLabel>
      <PLabel cx={1185} cy={1102}>F)</PLabel>

      <div style={{ position: 'absolute', left: 969, top: 17, width: 282, height: 470, boxSizing: 'border-box', border: `1px solid ${AXC}` }} />
      <Info cy={40}>ID: T5618_30</Info>
      <Info cy={66.7}>Sample Date: 14-Apr-2016</Info>
      <Info cy={93}>Sample Time:  9:08:16 AM</Info>
      <Info cy={120}>Depth=1.5 m</Info>
      <Info cy={146.7}>N=1902 particles</Info>
      <Info cy={176}>d<Sub>50,p</Sub>=  61.5 <Mu />m</Info>
      <Info cy={211}>d<Sub>50,m</Sub>=  93.9 <Mu />m</Info>
      <Info cy={251.7}>ws<Sub dy={11}>50,p</Sub>= 0.233 mm·s<Sup>-1</Sup></Info>
      <Info cy={293.3}>ws<Sub dy={11}>50,m</Sub>= 0.791 mm·s<Sup>-1</Sup></Info>
      <Info cy={329}>%_f(c,m): 52.8 30.5</Info>
      <Info cy={356.5}>%_ba(c,m): 43.8 64.4</Info>
      <Info cy={382.5}>%_p(c,m): 3.3 5.1</Info>
      <Info cy={409}>AnalysisDate: 20-Apr-2017</Info>
      <Info cy={436.7}>File: 20160414090816.seq</Info>
    </div>
  );
}
